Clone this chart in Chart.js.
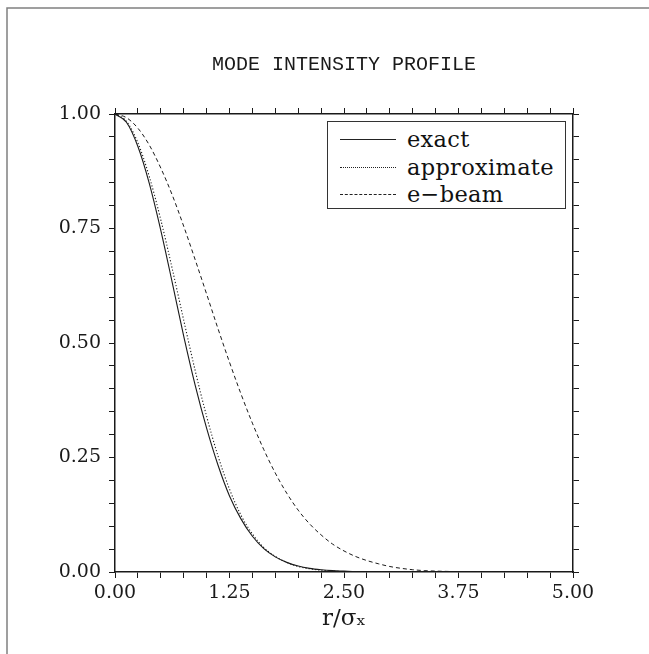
<!DOCTYPE html>
<html>
<head>
<meta charset="utf-8">
<script src="https://cdn.jsdelivr.net/npm/chart.js@4.4.0/dist/chart.umd.min.js"></script>
<style>
  body { margin: 0; background: #fff; overflow: hidden; }
  #wrap { position: relative; width: 649px; height: 654px; }
  #modeChart { display: block; }
  #legendBox { position: absolute; left: 327px; top: 121px; width: 239px; height: 88px;
    border: 1px solid #333; box-sizing: border-box; background: #fff;
    font-family: 'DejaVu Serif', serif; font-size: 22.5px; color: #111; }
  .row { position: absolute; left: 0; height: 24px; width: 100%; }
  .sample { position: absolute; left: 12px; width: 56px; top: 12px; border-top-width: 1px; border-top-color: #222; }
  .lbl { position: absolute; left: 79px; top: 0; line-height: 24px; white-space: nowrap; letter-spacing: 0.3px; }
</style>
</head>
<body>
<div id="wrap">
  <canvas id="modeChart" width="649" height="654"></canvas>
  <div id="legendBox"></div>
</div>
<script>
// r / sigma_x
const rValues = [0, 0.125, 0.25, 0.375, 0.5, 0.625, 0.75, 0.875, 1.0, 1.125, 1.25, 1.375, 1.5, 1.625, 1.75, 1.875,
  2.0, 2.125, 2.25, 2.375, 2.5, 2.625, 2.75, 2.875, 3.0, 3.125, 3.25, 3.375, 3.5, 3.625, 3.75, 3.875,
  4.0, 4.125, 4.25, 4.375, 4.5, 4.625, 4.75, 4.875, 5.0];

const exactValues = [1.000, 0.982, 0.929, 0.848, 0.746, 0.632, 0.515, 0.408, 0.314, 0.233, 0.166, 0.116, 0.078, 0.051, 0.033, 0.021,
  0.013, 0.008, 0.005, 0.003, 0.002, 0.001, 0.0005, 0.0002, 0, 0, 0, 0, 0, 0, 0, 0,
  0, 0, 0, 0, 0, 0, 0, 0, 0];

const approxValues = [1.000, 0.984, 0.937, 0.863, 0.769, 0.662, 0.550, 0.440, 0.340, 0.253, 0.181, 0.124, 0.083, 0.053, 0.034, 0.021,
  0.012, 0.007, 0.004, 0.002, 0.001, 0.0005, 0.0002, 0.0001, 0, 0, 0, 0, 0, 0, 0, 0,
  0, 0, 0, 0, 0, 0, 0, 0, 0];

const ebeamValues = [1.000, 0.992, 0.969, 0.932, 0.882, 0.823, 0.755, 0.682, 0.607, 0.531, 0.458, 0.389, 0.325, 0.267, 0.216, 0.172,
  0.135, 0.105, 0.081, 0.061, 0.046, 0.034, 0.025, 0.018, 0.012, 0.008, 0.005, 0.003, 0.002, 0.0013, 0.0008, 0.0005,
  0.0003, 0.0002, 0.0001, 0, 0, 0, 0, 0, 0];

const seriesNames = ['exact', 'approximate', 'e\u2212beam'];
const xTickLabels = ['0.00', '1.25', '2.50', '3.75', '5.00'];
const yTickLabels = ['0.00', '0.25', '0.50', '0.75', '1.00'];

function toPoints(ys) {
  return rValues.map((r, i) => ({ x: r, y: ys[i] }));
}
function isMajor(v, step) {
  return Math.abs(v / step - Math.round(v / step)) < 1e-6;
}
function labelFor(v, step, list) {
  if (!isMajor(v, step)) return '';
  return list[Math.round(v / step)] || '';
}

const ink = '#1a1a1a';
const tickFont = { family: 'DejaVu Serif', size: 19 };

// page frame (top and left edge lines)
const framePlugin = {
  id: 'frame',
  beforeDraw(chart) {
    const c = chart.ctx;
    c.save();
    c.fillStyle = '#fff';
    c.fillRect(0, 0, chart.width, chart.height);
    c.strokeStyle = '#808080';
    c.lineWidth = 1.5;
    c.beginPath();
    c.moveTo(7, chart.height);
    c.lineTo(7, 8);
    c.lineTo(chart.width, 8);
    c.stroke();
    c.restore();
  }
};

const axisBase = {
  type: 'linear',
  grid: { drawOnChartArea: false, tickLength: 6, color: ink, lineWidth: 1 },
  border: { color: ink, width: 1.5 }
};

const ctx = document.getElementById('modeChart').getContext('2d');
const modeChart = new Chart(ctx, {
  type: 'line',
  data: {
    datasets: [
      { label: seriesNames[0], data: toPoints(exactValues), borderColor: ink, borderWidth: 1.1 },
      { label: seriesNames[1], data: toPoints(approxValues), borderColor: ink, borderWidth: 1.1, borderDash: [1.2, 2] },
      { label: seriesNames[2], data: toPoints(ebeamValues), borderColor: ink, borderWidth: 1, borderDash: [4, 3] }
    ]
  },
  options: {
    responsive: false,
    animation: false,
    layout: { padding: 0 },
    elements: {
      point: { radius: 0 },
      line: { cubicInterpolationMode: 'monotone', fill: false }
    },
    plugins: {
      legend: { display: false },
      tooltip: { enabled: false },
      title: {
        display: true,
        fullSize: false,
        text: 'MODE INTENSITY PROFILE',
        color: ink,
        font: { family: 'Liberation Mono', size: 20, weight: 'normal' },
        padding: { top: 53, bottom: 0 }
      }
    },
    scales: {
      x: Object.assign({}, axisBase, {
        position: 'bottom', min: 0, max: 5,
        ticks: { stepSize: 0.25, autoSkip: false, maxRotation: 0, color: ink, font: tickFont, padding: 4,
          callback: v => labelFor(v, 1.25, xTickLabels) },
        title: { display: true, text: 'r/\u03c3\u2093', color: ink,
          font: { family: 'DejaVu Serif', size: 23 }, padding: { top: 0, bottom: 21 } },
        afterFit: s => { s.height = 82; }
      }),
      xTop: Object.assign({}, axisBase, {
        position: 'top', min: 0, max: 5,
        ticks: { stepSize: 0.25, autoSkip: false, callback: () => '' },
        afterFit: s => { s.height = 37; }
      }),
      y: Object.assign({}, axisBase, {
        position: 'left', min: 0, max: 1,
        ticks: { stepSize: 0.05, autoSkip: false, color: ink, font: tickFont, padding: 8,
          callback: v => labelFor(v, 0.25, yTickLabels) },
        afterFit: s => { s.width = 115; }
      }),
      yRight: Object.assign({}, axisBase, {
        position: 'right', min: 0, max: 1,
        ticks: { stepSize: 0.05, autoSkip: false, callback: () => '' },
        afterFit: s => { s.width = 76; }
      })
    }
  },
  plugins: [framePlugin]
});

// legend inside the plot, built from the datasets
const legendBox = document.getElementById('legendBox');
const rowTops = [5, 33, 60];
modeChart.data.datasets.forEach((ds, i) => {
  const row = document.createElement('div');
  row.className = 'row';
  row.style.top = rowTops[i] + 'px';
  const sample = document.createElement('div');
  sample.className = 'sample';
  sample.style.borderTopStyle = !ds.borderDash ? 'solid' : (ds.borderDash[0] < 2 ? 'dotted' : 'dashed');
  const lbl = document.createElement('span');
  lbl.className = 'lbl';
  lbl.textContent = ds.label;
  row.appendChild(sample);
  row.appendChild(lbl);
  legendBox.appendChild(row);
});
</script>
</body>
</html>
